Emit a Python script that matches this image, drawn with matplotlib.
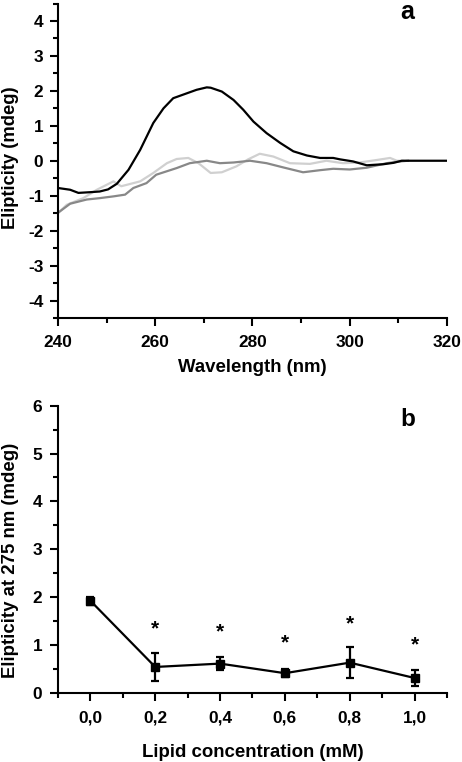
import numpy as np
import matplotlib
matplotlib.use("Agg")
import matplotlib.pyplot as plt
from matplotlib.ticker import MultipleLocator, FuncFormatter

plt.rcParams['font.family'] = ['Liberation Sans', 'DejaVu Sans']
plt.rcParams['font.weight'] = 'bold'
plt.rcParams['axes.unicode_minus'] = False

# panel a: CD spectra
wl_black = [240, 242.5, 244.2, 246.6, 248.6, 250.3, 252.1, 254.5, 256.9, 259.6, 261.7,
            263.7, 266.1, 268.5, 270.6, 271.4, 273.7, 276.1, 278.1, 280.2, 282.9, 285.7,
            288.4, 291.2, 293.9, 296.6, 298, 300.7, 303.5, 306.9, 309, 310.7, 320]
cd_black = [-0.78, -0.83, -0.92, -0.90, -0.88, -0.82, -0.66, -0.26, 0.31, 1.08, 1.5,
            1.79, 1.91, 2.03, 2.1, 2.09, 1.98, 1.74, 1.46, 1.12, 0.79, 0.51,
            0.27, 0.15, 0.08, 0.08, 0.04, -0.02, -0.13, -0.1, -0.06, 0.0, 0.0]

wl_dark = [240, 242.5, 245.9, 248.6, 251.4, 253.8, 255.5, 258.2, 260.2, 264.4, 267.1,
           270.6, 273.3, 276.1, 279.5, 282.9, 286.3, 290.4, 293.9, 296.6, 300, 303.5,
           307.6, 310.3, 312]
cd_dark = [-1.49, -1.23, -1.11, -1.07, -1.02, -0.97, -0.78, -0.64, -0.4, -0.21, -0.07,
           0.0, -0.07, -0.05, 0.0, -0.07, -0.19, -0.33, -0.27, -0.23, -0.25, -0.2,
           -0.07, -0.02, 0.0]

wl_light = [240, 241.8, 245.2, 248, 251.4, 253, 256.9, 259.6, 262.4, 264.4, 266.8,
            268.9, 271.4, 273.7, 276.7, 279.1, 281.5, 284.3, 287.7, 291.8, 295.2,
            298.6, 302, 305.5, 308.3, 309.7, 311]
cd_light = [-1.5, -1.26, -1.07, -0.83, -0.59, -0.73, -0.59, -0.35, -0.07, 0.05, 0.08,
            -0.07, -0.35, -0.33, -0.16, 0.04, 0.2, 0.12, -0.07, -0.09, 0.0,
            -0.07, -0.05, 0.02, 0.08, 0.0, 0.0]

# panel b: ellipticity at 275 nm
lipid = [0.0, 0.2, 0.4, 0.6, 0.8, 1.0]
ellip = [1.93, 0.55, 0.62, 0.42, 0.64, 0.32]
ellip_err = [0.08, 0.29, 0.14, 0.08, 0.32, 0.17]
star_y = [None, 1.35, 1.28, 1.05, 1.44, 1.0]

fig = plt.figure(figsize=(4.62, 7.62), dpi=100)
ax1 = fig.add_axes([0.1255, 0.5827, 0.842, 0.4127])
ax2 = fig.add_axes([0.1255, 0.0901, 0.842, 0.3777])


def style(ax, ypad):
    for s in ['top', 'right']:
        ax.spines[s].set_visible(False)
    for s in ['left', 'bottom']:
        ax.spines[s].set_linewidth(1.5)
    ax.tick_params(which='major', length=6, width=1.5, labelsize=12.4)
    ax.tick_params(which='minor', length=3.5, width=1.5)
    ax.tick_params(axis='x', which='major', pad=6.5)
    ax.tick_params(axis='y', which='major', pad=ypad)
    for lab in ax.get_xticklabels() + ax.get_yticklabels():
        lab.set_fontweight('bold')


ax1.plot(wl_light, cd_light, color='#d0d0d0', lw=1.6)
ax1.plot(wl_dark, cd_dark, color='#888888', lw=1.6)
ax1.plot(wl_black, cd_black, color='black', lw=1.6)
ax1.set_xlim(240, 320)
ax1.set_ylim(-4.5, 4.5)
ax1.xaxis.set_major_locator(MultipleLocator(20))
ax1.xaxis.set_minor_locator(MultipleLocator(10))
ax1.yaxis.set_major_locator(MultipleLocator(1))
ax1.yaxis.set_minor_locator(MultipleLocator(0.5))
style(ax1, 4.5)
ax1.set_xlabel('Wavelength (nm)', fontsize=13.4, fontweight='bold', va='center')
ax1.xaxis.set_label_coords(0.5, -50 / 314.5)
ax1.set_ylabel('Elipticity (mdeg)', fontsize=13.2, fontweight='bold', va='center')
ax1.yaxis.set_label_coords(-47 / 389, 0.51)
fig.text(407 / 462, 1 - 12 / 762, 'a', fontsize=18, fontweight='bold',
         ha='center', va='center')

ax2.errorbar(lipid, ellip, yerr=ellip_err, color='black', lw=1.6, marker='s',
             markersize=6, capsize=3, elinewidth=1.6, capthick=1.6)
for x, y in zip(lipid, star_y):
    if y is not None:
        ax2.text(x, y, '*', ha='center', va='center', fontsize=15, fontweight='bold')
ax2.set_xlim(-0.1, 1.1)
ax2.set_ylim(0, 6)
ax2.xaxis.set_major_locator(MultipleLocator(0.2))
ax2.xaxis.set_minor_locator(MultipleLocator(0.1))
ax2.yaxis.set_major_locator(MultipleLocator(1))
ax2.yaxis.set_minor_locator(MultipleLocator(0.5))
ax2.xaxis.set_major_formatter(FuncFormatter(lambda v, p: ('%.1f' % v).replace('.', ',')))
style(ax2, 5.5)
ax2.set_xlabel('Lipid concentration (mM)', fontsize=13.4, fontweight='bold', va='center')
ax2.xaxis.set_label_coords(0.5, -58.7 / 287.8)
ax2.set_ylabel('Elipticity at 275 nm (mdeg)', fontsize=13.4, fontweight='bold', va='center')
ax2.yaxis.set_label_coords(-47 / 389, 0.463)
fig.text(407.5 / 462, 1 - 420 / 762, 'b', fontsize=17.5, fontweight='bold',
         ha='center', va='center')

fig.savefig('out.png', dpi=100)
